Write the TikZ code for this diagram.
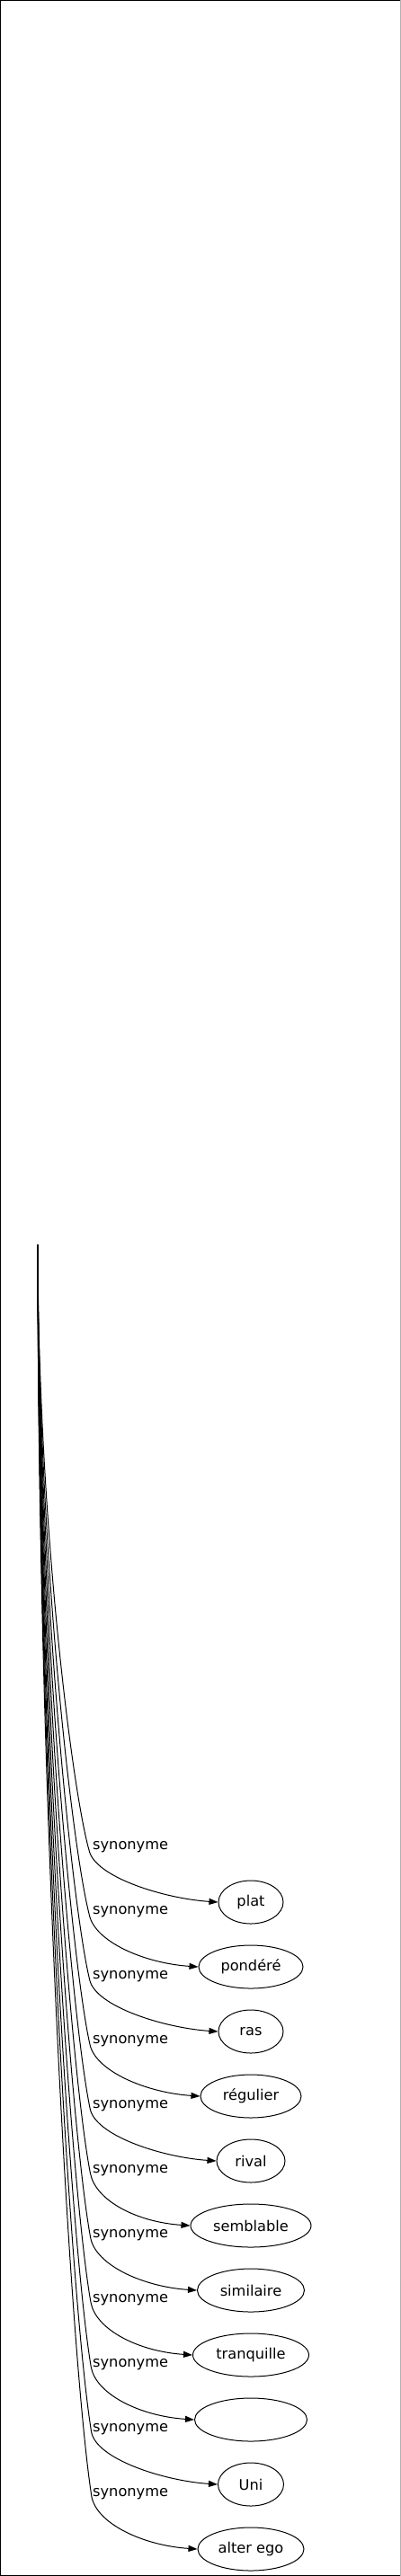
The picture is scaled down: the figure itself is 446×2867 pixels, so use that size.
\documentclass[tikz,border=0pt]{standalone}
\usepackage{fontspec}
\setmainfont{DejaVu Sans}
\usetikzlibrary{arrows.meta,shapes.geometric}
\begin{document}
\begin{tikzpicture}[x=1pt,y=-1pt,
  term/.style={draw, ellipse, line width=1pt, inner sep=0pt, minimum height=48pt,
    font=\fontsize{16.2}{19}\selectfont},
  lab/.style={inner sep=0pt, anchor=base west, font=\fontsize{16.2}{19}\selectfont},
  synedge/.style={draw, line width=1pt, -{Triangle[length=10pt,width=7pt]}}]
\useasboundingbox (0,0) rectangle (446,2867);
% frame
\draw[line width=1pt] (0.5,2866.5) -- (0.5,0.5) -- (446,0.5);
\draw[line width=1pt] (0,2866.5) -- (446,2866.5);
\draw[line width=1pt, black!30] (445.5,0) -- (445.5,2867);
% source
\coordinate (src) at (42,1385);
\foreach \i/\w/\t in {0/72/plat, 1/116/pondéré, 2/72/ras, 3/112/régulier,
  4/76/rival, 5/134/semblable, 6/119/similaire, 7/129/tranquille,
  8/125/{}, 9/73/Uni, 10/118/alter ego} {
  \pgfmathsetmacro{\yn}{2117+72*\i}
  \pgfmathsetmacro{\yl}{2058+72*\i}
  \pgfmathsetmacro{\yb}{2059+72*\i}
  \pgfmathsetmacro{\xb}{99+0.3*\i}
  \pgfmathsetmacro{\ya}{1385+0.45*(\yb-1385)}
  \pgfmathsetmacro{\yc}{\yb-0.1*(\yb-1385)}
  \node[term, minimum width=\w pt] (n\i) at (279,\yn) {\t};
  \node[lab] (l\i) at (103,\yl) {synonyme};
  \coordinate (b\i) at (\xb,\yb);
  \draw[synedge] (src) .. controls (42,\ya) and (80,\yc) .. (b\i)
     .. controls +(6,30) and +(-60,-4) .. (n\i.west);
}
\end{tikzpicture}
\end{document}
